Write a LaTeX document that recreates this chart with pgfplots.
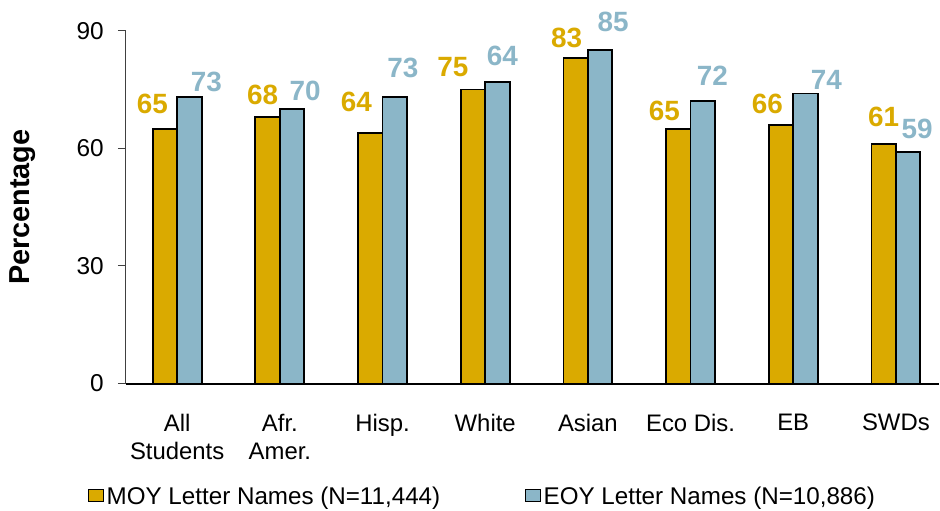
\documentclass[border=0pt]{standalone}
\usepackage{fontspec}
\setmainfont{Liberation Sans}
\usepackage{pgfplots}
\usepackage{pgfplotstable}
\pgfplotsset{compat=1.18}
\definecolor{moy}{HTML}{DAAA00}
\definecolor{eoy}{HTML}{8BB6C8}

% x = group, y = bar height, lab = printed label, dx/dy = label offset (bp)
\pgfplotstableread{
x y lab dx dy
0 65 65 -12.5 15
1 68 68 -5 12
2 64 64 -14 21
3 75 75 -20 13
4 83 83 -9 11
5 65 65 -14 8
6 66 66 -13.7 11
7 61 61 0 18
}\moydata
\pgfplotstableread{
x y lab dx dy
0 73 73 17 6
1 70 70 13 9
2 73 73 8 20
3 77 64 5 16
4 85 85 13 19
5 72 72 9.5 16
6 74 74 21 4
7 59 59 9 14
}\eoydata

\begin{document}
\begin{tikzpicture}
\begin{axis}[
  scale only axis, width=814bp, height=353.3bp,
  xmin=-0.5, xmax=7.42, ymin=0, ymax=90,
  axis lines=left,
  x axis line style={line width=2bp, black, -},
  y axis line style={line width=1bp, black!75, -},
  ybar=0pt, bar width=24.5bp,
  xtick={0,...,7},
  xticklabels={{All\\Students},{Afr.\\Amer.},Hisp.,White,Asian,Eco Dis.,EB,SWDs},
  xtick style={draw=none},
  ytick={0,30,60,90},
  tick align=outside, major tick length=8bp,
  ytick style={line width=1bp, black!75},
  xticklabel style={font=\fontsize{24}{29}\selectfont, align=center, anchor=north, inner sep=0pt, yshift=-22bp},
  yticklabel style={font=\fontsize{24.5}{28}\selectfont, anchor=east, inner sep=0pt, xshift=-14bp},
  /pgf/number format/assume math mode=true,
  every axis y label/.style={at={(axis description cs:-0.127,0.5)}, rotate=90, anchor=center,
    font=\bfseries\fontsize{29}{34}\selectfont},
  ylabel={Percentage},
  clip=false,
  legend image code/.code={\draw[#1, line width=1.5bp] (0bp,-5bp) rectangle (15bp,7bp);},
  legend style={at={(axis description cs:0.4387,-0.32)}, anchor=center, draw=none, fill=none,
    legend columns=2, font=\fontsize{24.3}{28}\selectfont, inner sep=0pt,
    nodes={inner sep=2.5bp},
    /tikz/every even column/.append style={column sep=82bp}},
  legend cell align=left,
]
\addplot[fill=moy, draw=black, line width=1.8bp,
  point meta=explicit symbolic, nodes near coords,
  visualization depends on={\thisrow{dx}\as\labdx},
  visualization depends on={\thisrow{dy}\as\labdy},
  nodes near coords style={anchor=base, inner sep=0pt, xshift=\labdx bp, yshift=\labdy bp,
    text=moy, font=\bfseries\fontsize{28}{32}\selectfont}]
  table[x=x, y=y, meta=lab] {\moydata};
\addlegendentry{MOY Letter Names (N=11,444)}
\addplot[fill=eoy, draw=black, line width=1.8bp,
  point meta=explicit symbolic, nodes near coords,
  visualization depends on={\thisrow{dx}\as\labdx},
  visualization depends on={\thisrow{dy}\as\labdy},
  nodes near coords style={anchor=base, inner sep=0pt, xshift=\labdx bp, yshift=\labdy bp,
    text=eoy, font=\bfseries\fontsize{28}{32}\selectfont}]
  table[x=x, y=y, meta=lab] {\eoydata};
\addlegendentry{EOY Letter Names (N=10,886)}
\path (rel axis cs:0,0) ++(-126bp,-127bp) rectangle ++(940bp,511bp);
\end{axis}
\end{tikzpicture}
\end{document}
